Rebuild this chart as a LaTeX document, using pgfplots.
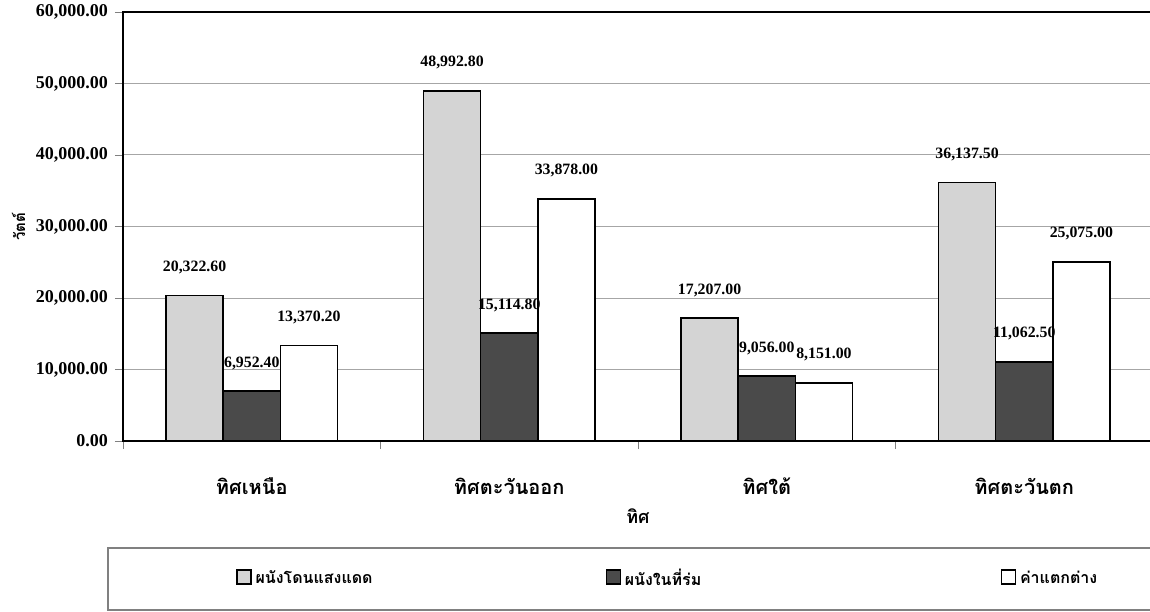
\documentclass[border=0pt]{standalone}
\usepackage{fontspec}
\setmainfont{Liberation Serif}
\newfontfamily\thaifont[Script=Thai]{Loma}
\usepackage{pgfplots}
\pgfplotsset{compat=1.18}

\definecolor{sunwall}{HTML}{D4D4D4}
\definecolor{shadewall}{HTML}{4A4A4A}

\begin{document}
\begin{tikzpicture}
\begin{axis}[
    at={(61.5pt,85pt)}, anchor=south west,
    scale only axis,
    width=515pt, height=214.5pt,
    ybar=0pt, bar width=0.222,
    xmin=-0.5, xmax=3.5,
    ymin=0, ymax=60000,
    xtick={-0.5,0.5,1.5,2.5,3.5},
    x tick label as interval,
    xticklabels={ทิศเหนือ,ทิศตะวันออก,ทิศใต้,ทิศตะวันตก},
    xticklabel style={font=\thaifont\bfseries\fontsize{10}{12}\selectfont, yshift=-11pt},
    ytick={0,10000,20000,30000,40000,50000,60000},
    scaled y ticks=false,
    yticklabel style={font=\bfseries\fontsize{9}{11}\selectfont,
        /pgf/number format/.cd, fixed, fixed zerofill, precision=2, 1000 sep={,}, assume math mode=true},
    tick align=outside, tick pos=left,
    major tick length=4pt,
    axis line style={line width=1.2pt},
    ymajorgrids, major grid style={gray!70, line width=0.5pt},
    xlabel={\thaifont\bfseries ทิศ},
    xlabel style={font=\fontsize{9}{11}\selectfont, yshift=0pt},
    ylabel={\thaifont\bfseries วัตต์},
    ylabel style={font=\fontsize{7.5}{9}\selectfont, yshift=-1.5pt},
    nodes near coords,
    every node near coord/.append style={font=\bfseries\fontsize{7.9}{9}\selectfont, yshift=7pt,
        /pgf/number format/.cd, fixed, fixed zerofill, precision=2, 1000 sep={,}, assume math mode=true},
    legend columns=3,
    legend style={draw=none, fill=none, at={(0.1039,-0.3217)}, anchor=west,
        font=\thaifont\bfseries\fontsize{8}{10}\selectfont,
        /tikz/column 2/.style={text width=173pt},
        /tikz/column 4/.style={text width=186pt}},
    legend image code/.code={\draw[#1, draw=black, line width=0.6pt] (0pt,-2.5pt) rectangle (7pt,4.5pt);},
]
\addplot[fill=sunwall, draw=black, line width=0.8pt, bar shift=-0.222]
    coordinates {(0,20322.60) (1,48992.80) (2,17207.00) (3,36137.50)};
\addplot[fill=shadewall, draw=black, line width=0.8pt, bar shift=0]
    coordinates {(0,6952.40) (1,15114.80) (2,9056.00) (3,11062.50)};
\addplot[fill=white, draw=black, line width=0.8pt, bar shift=0.222]
    coordinates {(0,13370.20) (1,33878.00) (2,8151.00) (3,25075.00)};
\legend{ผนังโดนแสงแดด,ผนังในที่ร่ม,ค่าแตกต่าง}
\end{axis}
\draw[gray, line width=0.6pt] (54pt,0.5pt) rectangle (580pt,31.5pt);
\pgfresetboundingbox
\path[use as bounding box] (0,0) rectangle (575pt,305.5pt);
\end{tikzpicture}
\end{document}
